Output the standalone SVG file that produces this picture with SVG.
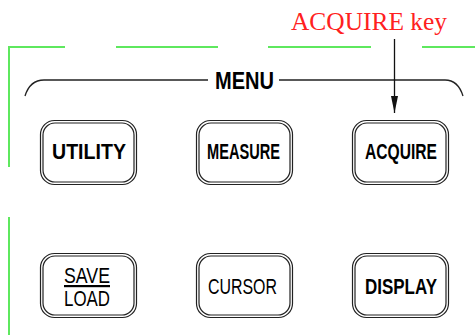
<svg xmlns="http://www.w3.org/2000/svg" width="475" height="335" viewBox="0 0 475 335">
<defs>
<style>
.green{stroke:#5ee85e;stroke-width:2;fill:none}
.line{stroke:#222;stroke-width:1.3;fill:none}
.btn{stroke:#222;stroke-width:1.2;fill:none}
.bt{font-family:"Liberation Sans",Arial,sans-serif;font-weight:bold;font-size:22.5px;fill:#000}
.rt{font-family:"Liberation Sans",Arial,sans-serif;font-size:22px;fill:#000}
</style>
<marker id="ah" markerWidth="17" markerHeight="8" refX="17" refY="4" orient="auto" markerUnits="userSpaceOnUse" viewBox="0 0 17 8">
<path d="M0,0.5 L17,4 L0,7.5 Z" fill="#111"/>
</marker>
</defs>
<rect width="475" height="335" fill="#ffffff"/>
<g id="frame">
<path class="green" d="M9,167 V47 H65 M116,47 H218 M268,47 H371 M422,47 H475 M9,217 V335"/>
<path class="line" d="M25,96 Q30,80 44,80 H208 M279,80 H445 Q458,80 463,96"/>
<text x="215" y="88.5" class="bt" style="font-size:24px" textLength="59" lengthAdjust="spacingAndGlyphs">MENU</text>
</g>
<g id="label">
<text x="291" y="29.5" font-family="'Liberation Serif','Times New Roman',serif" font-size="26" fill="#ff2020" textLength="156" lengthAdjust="spacingAndGlyphs">ACQUIRE key</text>
</g>
<g id="connectors">
<line x1="394.5" y1="39" x2="394.5" y2="113" stroke="#111" stroke-width="1.3" marker-end="url(#ah)"/>
</g>
<g id="utility">
<rect class="btn" x="40.5" y="120.5" width="96" height="64" rx="14"/>
<rect class="btn" x="43" y="123" width="91" height="59" rx="12"/>
<text x="52" y="159" class="bt" textLength="74" lengthAdjust="spacingAndGlyphs">UTILITY</text>
</g>
<g id="measure">
<rect class="btn" x="196.5" y="120.5" width="96" height="64" rx="14"/>
<rect class="btn" x="199" y="123" width="91" height="59" rx="12"/>
<text x="207" y="159" class="bt" textLength="73" lengthAdjust="spacingAndGlyphs">MEASURE</text>
</g>
<g id="acquire">
<rect class="btn" x="352.5" y="120.5" width="96" height="64" rx="14"/>
<rect class="btn" x="355" y="123" width="91" height="59" rx="12"/>
<text x="365" y="159" class="bt" textLength="72" lengthAdjust="spacingAndGlyphs">ACQUIRE</text>
</g>
<g id="saveload">
<rect class="btn" x="40.5" y="253.5" width="96" height="64" rx="14"/>
<rect class="btn" x="43" y="256" width="91" height="59" rx="12"/>
<text x="64" y="283" class="rt" text-decoration="underline" textLength="46" lengthAdjust="spacingAndGlyphs">SAVE</text>
<text x="64" y="306" class="rt" textLength="46" lengthAdjust="spacingAndGlyphs">LOAD</text>
</g>
<g id="cursor">
<rect class="btn" x="196.5" y="253.5" width="96" height="64" rx="14"/>
<rect class="btn" x="199" y="256" width="91" height="59" rx="12"/>
<text x="208" y="294" class="rt" textLength="69" lengthAdjust="spacingAndGlyphs">CURSOR</text>
</g>
<g id="display">
<rect class="btn" x="352.5" y="253.5" width="96" height="64" rx="14"/>
<rect class="btn" x="355" y="256" width="91" height="59" rx="12"/>
<text x="365" y="294" class="bt" textLength="72" lengthAdjust="spacingAndGlyphs">DISPLAY</text>
</g>
</svg>
